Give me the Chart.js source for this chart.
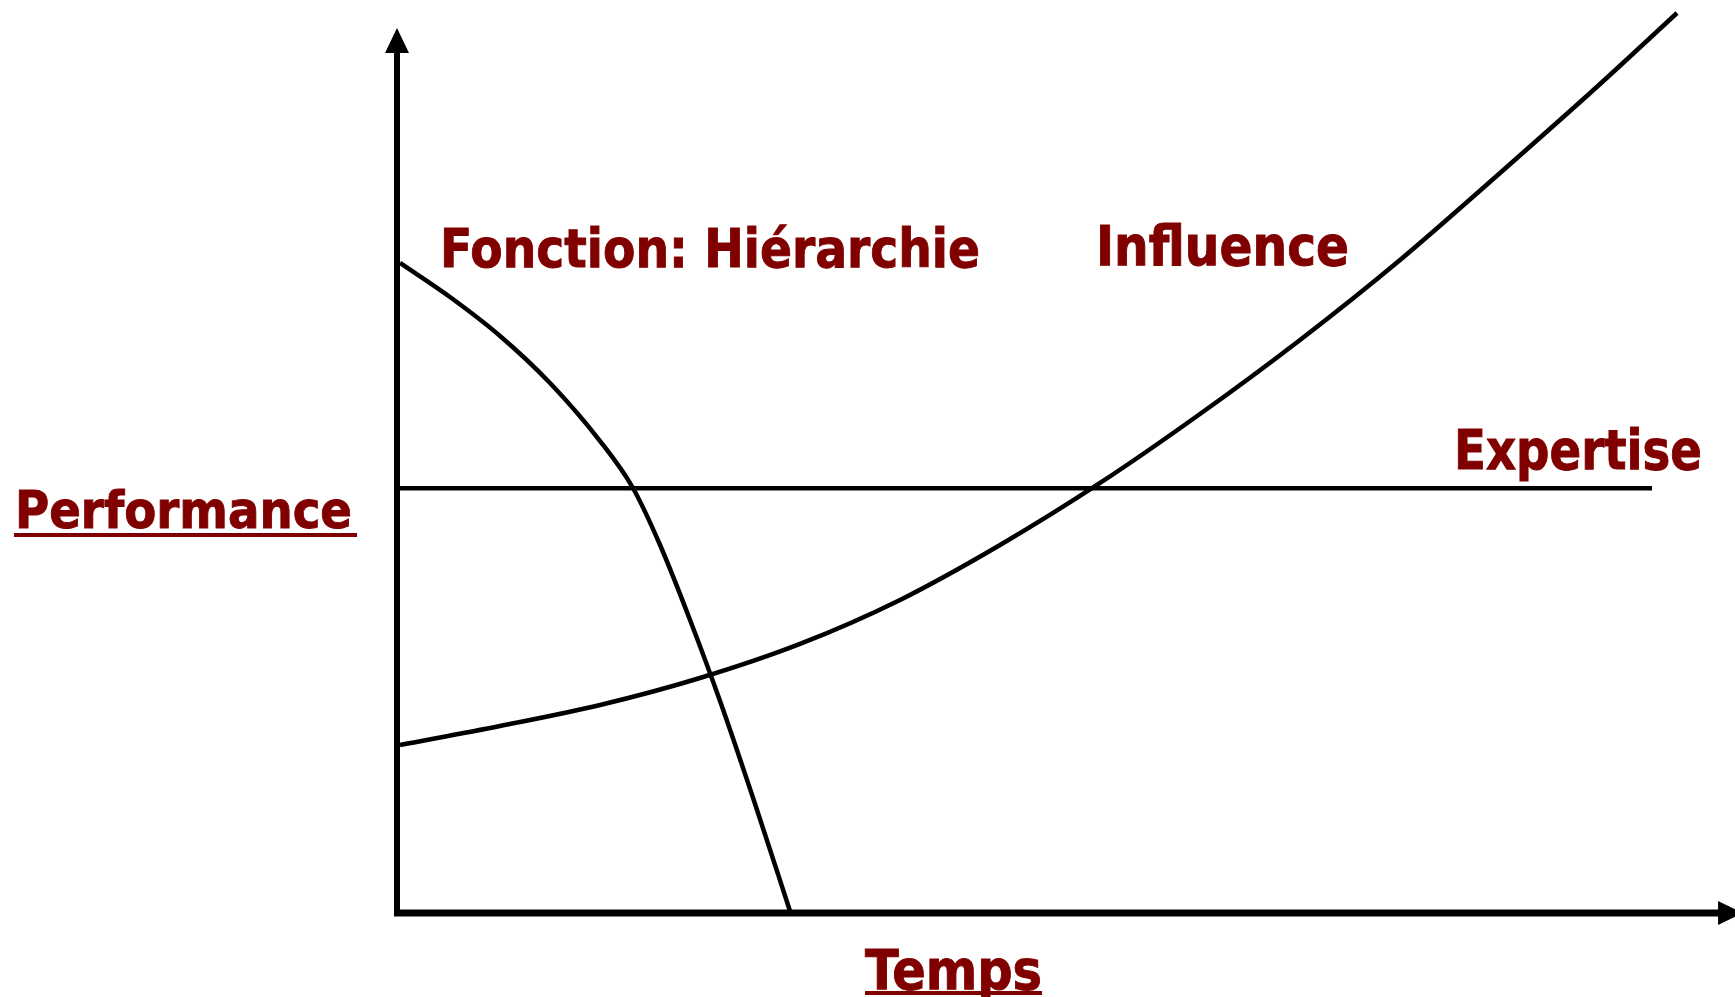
<!DOCTYPE html>
<html>
<head>
<meta charset="utf-8">
<script src="https://cdn.jsdelivr.net/npm/chart.js@4"></script>
<style>
html,body{margin:0;padding:0;background:#fff;}
#wrap{width:1735px;height:997px;}
</style>
</head>
<body>
<div id="wrap"><canvas id="c" width="1735" height="997"></canvas></div>
<script>
// ---- Data (Temps on x, Performance on y) ----
const hierX = [0.024, 0.422, 0.821, 1.219, 1.618, 1.880, 2.096, 2.335, 2.574, 2.853, 3.131];
const hierY = [7.345, 6.960, 6.520, 5.989, 5.333, 4.802, 4.158, 3.311, 2.395, 1.232, 0.023];
const inflX = [0.024, 0.821, 1.618, 2.414, 3.211, 4.008, 4.805, 5.602, 6.398, 7.195, 7.992, 8.789, 9.586, 10.199];
const inflY = [1.898, 2.113, 2.350, 2.655, 3.040, 3.537, 4.158, 4.859, 5.638, 6.475, 7.379, 8.362, 9.367, 10.169];
const expX = [0.0, 10.0];
const expY = [4.80, 4.80];
const seriesNames = ["Fonction: Hiérarchie", "Influence", "Expertise"];
const axisTitles = { x: "Temps", y: "Performance" };

const toPts = (xs, ys) => xs.map((x, i) => ({ x: x, y: ys[i] }));
const LABEL_COLOR = "#800000";

function drawFitted(ctx, text, left, baseline, width, cap) {
  const size = cap / 0.729;
  ctx.save();
  ctx.font = "bold " + size.toFixed(1) + "px 'DejaVu Sans'";
  ctx.fillStyle = LABEL_COLOR;
  ctx.strokeStyle = LABEL_COLOR;
  ctx.lineWidth = 1;
  ctx.textBaseline = "alphabetic";
  ctx.textAlign = "left";
  const w = ctx.measureText(text).width;
  ctx.translate(left, baseline);
  ctx.scale(width / w, 1);
  ctx.fillText(text, 0, 0);
  ctx.strokeText(text, 0, 0);
  ctx.restore();
}

const decor = {
  id: "decor",
  afterDatasetsDraw(chart) {
    const ctx = chart.ctx;
    const xs = chart.scales.x, ys = chart.scales.y;
    const x0 = xs.getPixelForValue(0), y0 = ys.getPixelForValue(0);
    ctx.save();
    ctx.fillStyle = "#000";
    ctx.strokeStyle = "#000";
    ctx.lineCap = "butt";
    // Y axis with arrow
    const yTip = ys.getPixelForValue(10.0);
    ctx.lineWidth = 6;
    ctx.beginPath();
    ctx.moveTo(x0, y0 + 3);
    ctx.lineTo(x0, yTip + 22);
    ctx.stroke();
    ctx.beginPath();
    ctx.moveTo(x0, yTip);
    ctx.lineTo(x0 - 12, yTip + 25);
    ctx.lineTo(x0 + 12, yTip + 25);
    ctx.closePath();
    ctx.fill();
    // X axis with arrow
    const xTip = xs.getPixelForValue(10.725);
    ctx.lineWidth = 7;
    ctx.beginPath();
    ctx.moveTo(x0 - 3, y0);
    ctx.lineTo(xTip - 22, y0);
    ctx.stroke();
    ctx.beginPath();
    ctx.moveTo(xTip, y0);
    ctx.lineTo(xTip - 25, y0 - 12);
    ctx.lineTo(xTip - 25, y0 + 12);
    ctx.closePath();
    ctx.fill();
    ctx.restore();

    // Labels
    drawFitted(ctx, seriesNames[0], 440, 267, 540, 39);
    drawFitted(ctx, seriesNames[1], 1096, 265, 253, 40);
    drawFitted(ctx, seriesNames[2], 1454, 469, 248, 40);
    drawFitted(ctx, axisTitles.y, 15, 528, 337, 38);
    drawFitted(ctx, axisTitles.x, 865, 989, 177, 40);
    // underlines
    ctx.save();
    ctx.fillStyle = LABEL_COLOR;
    ctx.fillRect(14, 533, 343, 4);
    ctx.fillRect(865, 991, 177, 4);
    ctx.restore();
  }
};

const common = { borderColor: "#000", borderWidth: 4.5, pointRadius: 0, fill: false, cubicInterpolationMode: "monotone" };

new Chart(document.getElementById("c"), {
  type: "line",
  data: {
    datasets: [
      Object.assign({ label: seriesNames[0], data: toPts(hierX, hierY) }, common),
      Object.assign({ label: seriesNames[1], data: toPts(inflX, inflY) }, common),
      Object.assign({ label: seriesNames[2], data: toPts(expX, expY) }, common, { borderWidth: 4.5, cubicInterpolationMode: "default", tension: 0 })
    ]
  },
  options: {
    responsive: false,
    animation: false,
    devicePixelRatio: 1,
    clip: false,
    layout: { padding: { left: 397, right: 0, top: 0, bottom: 84 } },
    plugins: { legend: { display: false }, tooltip: { enabled: false }, title: { display: false } },
    scales: {
      x: { type: "linear", min: 0, max: 10.661, display: false },
      y: { type: "linear", min: 0, max: 10.316, display: false }
    }
  },
  plugins: [decor]
});
</script>
</body>
</html>
